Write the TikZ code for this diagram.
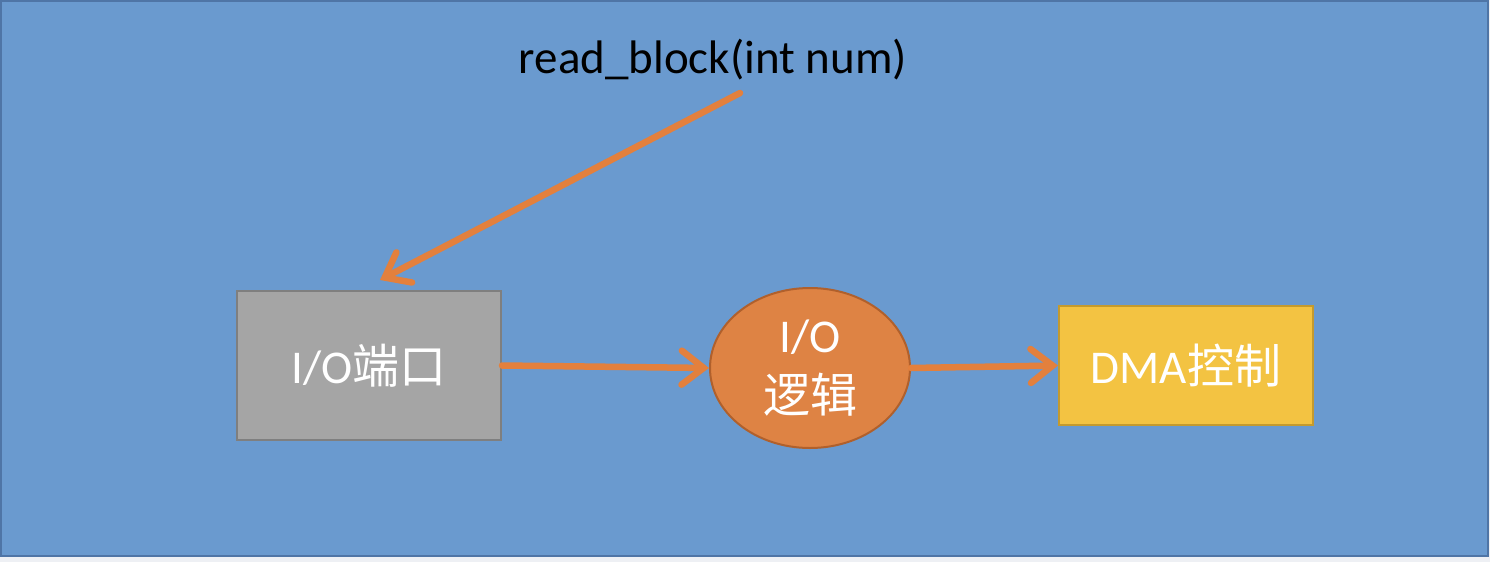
\documentclass[tikz,border=0pt]{standalone}
\usepackage{fontspec}
\setmainfont{Carlito}
\newfontfamily\cjk{Noto Sans CJK SC}
\usepackage{tikz}
\usetikzlibrary{shapes.geometric, arrows.meta, positioning}

\definecolor{bgblue}{HTML}{6A9ACF}
\definecolor{bgline}{HTML}{4F75A6}
\definecolor{portgray}{HTML}{A5A5A5}
\definecolor{portline}{HTML}{7F7F7F}
\definecolor{logicorange}{HTML}{DE8344}
\definecolor{logicline}{HTML}{B0602C}
\definecolor{dmayellow}{HTML}{F3C342}
\definecolor{dmaline}{HTML}{C49A2E}
\definecolor{flow}{HTML}{E3803D}
\definecolor{strip}{HTML}{EEF0F4}

\begin{document}
\begin{tikzpicture}[
  x=1pt, y=-1pt,
  big/.style={font=\fontsize{47}{52}\selectfont},
  unitbox/.style={draw, line width=2pt, big, text=white, inner sep=0pt},
  flowarrow/.style={draw=flow, line width=6.5pt, line cap=round, line join=round,
    -{Straight Barb[length=22pt, width=34pt, line cap=round]}},
]
\useasboundingbox (0,0) rectangle (1490,562);
% background
\fill[strip] (0,0) rectangle (1490,562);
\draw[fill=bgblue, draw=bgline, line width=2pt] (1,1) rectangle (1488,556);

% units
\node[unitbox, fill=portgray, draw=portline, minimum width=264pt, minimum height=149pt]
  (port) at (369,365.5) {I/O{\cjk 端口}};
\node[ellipse, unitbox, fill=logicorange, draw=logicline, minimum width=200pt,
  minimum height=160pt, align=center] (logic) at (810,368) {I/O\\[8pt]{\cjk 逻辑}};
\node[unitbox, fill=dmayellow, draw=dmaline, minimum width=254pt, minimum height=119pt]
  (dma) at (1186,365.5) {DMA{\cjk 控制}};

% call
\node[big] (call) at (713,60) {read\_block(int num)};
\coordinate (callfoot) at (740,93);
\coordinate (porttop) at ([xshift=11pt, yshift=10pt]port.north);

% arrows
\draw[flowarrow] (callfoot) -- (porttop);
\draw[flowarrow] (port.east) -- (logic.west);
\draw[flowarrow] (logic.east) -- (dma.west);
\end{tikzpicture}
\end{document}
